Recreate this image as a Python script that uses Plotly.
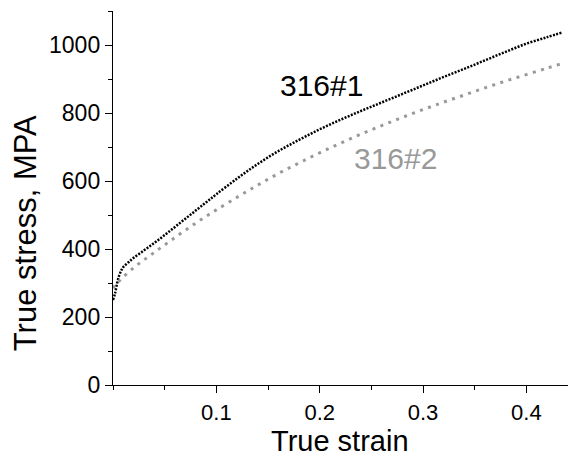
import plotly.graph_objects as go

# 316#1 (black)
strain_1 = [0.000, 0.002, 0.004, 0.006, 0.008, 0.010, 0.015, 0.020, 0.030, 0.040,
            0.050, 0.060, 0.070, 0.080, 0.090, 0.100, 0.120, 0.140, 0.160, 0.180,
            0.200, 0.220, 0.240, 0.260, 0.280, 0.300, 0.320, 0.340, 0.360, 0.380,
            0.400, 0.420, 0.435]
stress_1 = [250, 270, 300, 322, 337, 347, 361, 374, 396, 418,
            441, 465, 489, 513, 537, 561, 607, 650, 688, 721,
            752, 780, 806, 831, 856, 881, 906, 930, 955, 980,
            1004, 1023, 1037]

# 316#2 (grey)
strain_2 = [0.000, 0.005, 0.010, 0.020, 0.030, 0.040, 0.050, 0.060, 0.070, 0.080,
            0.090, 0.100, 0.120, 0.140, 0.160, 0.180, 0.200, 0.220, 0.240, 0.260,
            0.280, 0.300, 0.320, 0.340, 0.360, 0.380, 0.400, 0.420, 0.435]
stress_2 = [285, 303, 318, 345, 368, 390, 412, 434, 455, 476,
            496, 515, 552, 588, 622, 653, 683, 711, 738, 763,
            787, 810, 832, 853, 874, 894, 913, 932, 946]

x_ticks = [0.1, 0.2, 0.3, 0.4]
x_tick_text = ["0.1", "0.2", "0.3", "0.4"]
y_ticks = [0, 200, 400, 600, 800, 1000]
y_tick_text = ["0", "200", "400", "600", "800", "1000"]

FONT = "Liberation Sans, Arial, sans-serif"

fig = go.Figure()
fig.add_trace(go.Scatter(x=strain_1, y=stress_1, mode="lines",
                         line=dict(color="#000000", width=2.5, dash="2px,1.4px", shape="spline"),
                         showlegend=False))
fig.add_trace(go.Scatter(x=strain_2, y=stress_2, mode="lines",
                         line=dict(color="#999999", width=3, dash="3px,5.5px", shape="spline"),
                         showlegend=False))

# The page body has an 8px margin, so the figure is sized/placed to compensate.
fig.update_layout(
    width=568, height=449,
    margin=dict(l=104.5, r=0, t=3, b=72, autoexpand=False),
    paper_bgcolor="white", plot_bgcolor="white",
    font=dict(family=FONT, color="#000000"),
    xaxis=dict(range=[0, 0.448], tickvals=x_ticks, ticktext=x_tick_text,
               ticks="outside", ticklen=7, tickwidth=1.3, tickcolor="#000",
               showline=True, linecolor="#000", linewidth=1.4, showgrid=False, zeroline=False,
               tickfont=dict(size=22, family=FONT),
               minor=dict(dtick=0.05, tick0=0, ticks="outside", ticklen=4, tickwidth=1.2,
                          tickcolor="#000", showgrid=False)),
    yaxis=dict(range=[0, 1100], tickvals=y_ticks, ticktext=y_tick_text,
               ticks="outside", ticklen=7, tickwidth=1.3, tickcolor="#000",
               showline=True, linecolor="#000", linewidth=1.4, showgrid=False, zeroline=False,
               tickfont=dict(size=23, family=FONT),
               minor=dict(dtick=100, tick0=0, ticks="outside", ticklen=4, tickwidth=1.2,
                          tickcolor="#000", showgrid=False)),
    annotations=[
        dict(text="True strain", xref="paper", yref="paper", x=0.491, y=-0.1484,
             xanchor="center", yanchor="middle", showarrow=False, borderpad=0,
             font=dict(size=29, family=FONT, color="#000")),
        dict(text="True stress, MPA", xref="paper", yref="paper", x=-0.19, y=0.406,
             xanchor="center", yanchor="middle", showarrow=False, textangle=-90, borderpad=0,
             font=dict(size=31, family=FONT, color="#000")),
        dict(text="316#1", xref="x", yref="y", x=0.2017, y=881,
             xanchor="center", yanchor="middle", showarrow=False,
             font=dict(size=30, family=FONT, color="#000")),
        dict(text="316#2", xref="x", yref="y", x=0.2738, y=666,
             xanchor="center", yanchor="middle", showarrow=False,
             font=dict(size=30, family=FONT, color="#999999")),
    ],
)

fig.write_html("out.html")
